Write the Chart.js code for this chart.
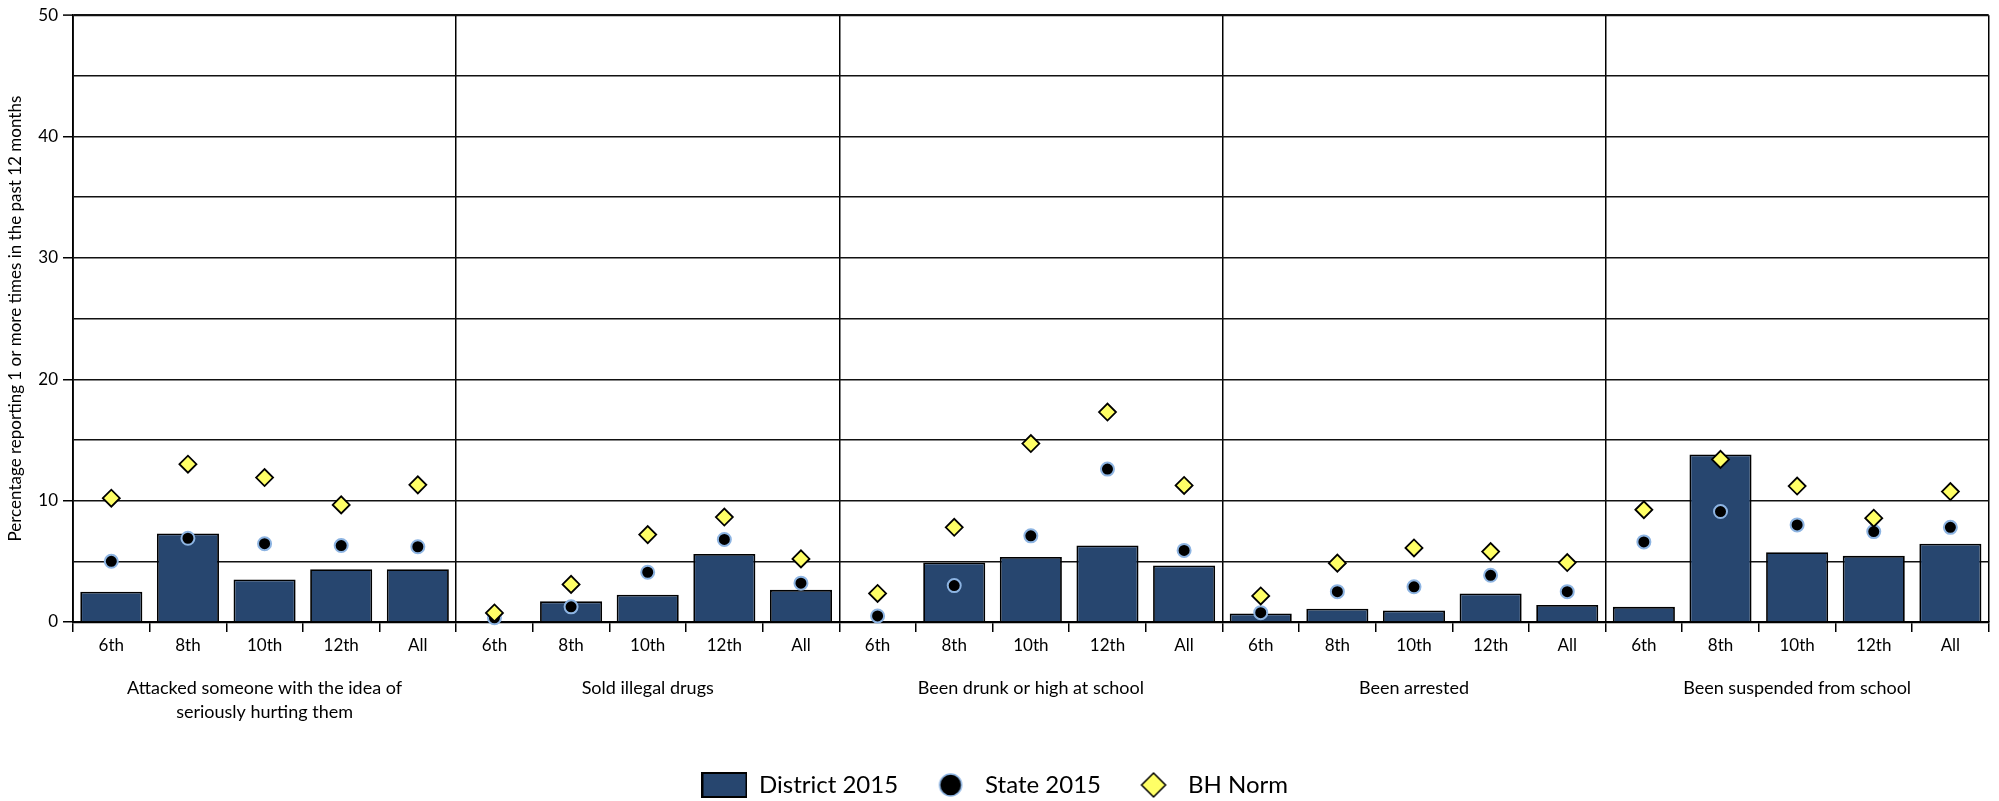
<!DOCTYPE html>
<html>
<head>
<meta charset="utf-8">
<script src="https://cdn.jsdelivr.net/npm/chart.js@4.4.1/dist/chart.umd.min.js"></script>
<style>
  html, body { margin: 0; padding: 0; background: #ffffff; }
  #wrap { width: 1999px; height: 801px; }
</style>
</head>
<body>
<div id="wrap"><canvas id="c" width="1999" height="801"></canvas></div>
<script>
// ---- data ----
const grades = ['6th', '8th', '10th', '12th', 'All'];
const groups = [
  ['Attacked someone with the idea of', 'seriously hurting them'],
  'Sold illegal drugs',
  'Been drunk or high at school',
  'Been arrested',
  'Been suspended from school'
];
const seriesNames = ['District 2015', 'State 2015', 'BH Norm'];
const yTickValues = [0, 10, 20, 30, 40, 50];

//                 Attacked                    Sold                     Drunk/high                Arrested                   Suspended
const district2015 = [2.5, 7.3, 3.5, 4.35, 4.35,  0, 1.7, 2.25, 5.6, 2.65,  0, 4.9, 5.35, 6.3, 4.65,   0.7, 1.1, 0.95, 2.35, 1.4,  1.25, 13.8, 5.75, 5.45, 6.45];
const state2015    = [5.0, 6.9, 6.45, 6.3, 6.2,   0.35, 1.25, 4.1, 6.8, 3.2, 0.5, 3.0, 7.1, 12.6, 5.9,   0.77, 2.5, 2.9, 3.85, 2.5,  6.6, 9.1, 8.0, 7.45, 7.8];
const bhNorm       = [10.2, 13.0, 11.9, 9.65, 11.3, 0.75, 3.1, 7.2, 8.65, 5.2, 2.35, 7.8, 14.7, 17.3, 11.25, 2.15, 4.85, 6.1, 5.8, 4.9, 9.25, 13.4, 11.2, 8.55, 10.75];

const categories = groups.flatMap(() => grades);

// ---- styles ----
const NAVY = '#27466f';
const LIGHTBLUE = '#8db4e2';
const YELLOW = '#ffff66';
const FONT = 'Lato, "Liberation Sans", "DejaVu Sans", sans-serif';

Chart.defaults.font.family = FONT;
Chart.defaults.color = '#000';

function icon(w, h, draw) {
  const c = document.createElement('canvas');
  c.width = w; c.height = h;
  draw(c.getContext('2d'), w, h);
  return c;
}
const rectIcon = icon(46, 26, (g, w, h) => {
  g.fillStyle = NAVY; g.fillRect(1, 1, w - 2, h - 2);
  g.strokeStyle = '#000'; g.lineWidth = 2; g.strokeRect(1, 1, w - 2, h - 2);
});
const circIcon = icon(26, 26, (g) => {
  g.beginPath(); g.arc(13, 13, 11, 0, Math.PI * 2);
  g.fillStyle = '#000'; g.fill();
  g.lineWidth = 1.5; g.strokeStyle = LIGHTBLUE; g.stroke();
});
const diaIcon = icon(28, 28, (g) => {
  g.beginPath(); g.moveTo(14, 2); g.lineTo(26, 14); g.lineTo(14, 26); g.lineTo(2, 14); g.closePath();
  g.fillStyle = YELLOW; g.fill();
  g.lineWidth = 1.5; g.strokeStyle = '#000'; g.stroke();
});
const legendIcons = [rectIcon, circIcon, diaIcon];

new Chart(document.getElementById('c'), {
  data: {
    labels: categories,
    datasets: [
      {
        type: 'bar', label: seriesNames[0], data: district2015,
        backgroundColor: NAVY, borderColor: '#000', borderWidth: 1.8,
        barPercentage: 0.81, categoryPercentage: 1, order: 2, xAxisID: 'x', yAxisID: 'y'
      },
      {
        type: 'line', label: seriesNames[1], data: state2015, showLine: false,
        pointStyle: 'circle', pointRadius: 6.5, pointBackgroundColor: '#000',
        pointBorderColor: LIGHTBLUE, pointBorderWidth: 2,
        backgroundColor: '#000', borderColor: LIGHTBLUE,
        order: 1, clip: false, xAxisID: 'x', yAxisID: 'y'
      },
      {
        type: 'line', label: seriesNames[2], data: bhNorm, showLine: false,
        pointStyle: 'rectRot', pointRadius: 8.5, pointBackgroundColor: YELLOW,
        pointBorderColor: '#000', pointBorderWidth: 1.8,
        backgroundColor: YELLOW, borderColor: '#000',
        order: 0, clip: false, xAxisID: 'x', yAxisID: 'y'
      }
    ]
  },
  options: {
    responsive: false,
    devicePixelRatio: 1,
    animation: false,
    layout: { padding: { top: 15, left: 0, right: 9, bottom: -6 } },
    plugins: {
      tooltip: { enabled: false },
      legend: {
        position: 'bottom',
        labels: {
          usePointStyle: true,
          pointStyleWidth: 45,
          boxHeight: 24,
          padding: 30,
          color: '#000',
          font: { size: 24, family: FONT },
          sort: (a, b) => a.datasetIndex - b.datasetIndex,
          generateLabels(chart) {
            const items = Chart.defaults.plugins.legend.labels.generateLabels(chart);
            items.forEach(it => { it.pointStyle = legendIcons[it.datasetIndex]; });
            return items;
          }
        }
      }
    },
    scales: {
      x: {
        type: 'category',
        offset: true,
        grid: { offset: true, drawOnChartArea: false, tickLength: 10, color: '#000', lineWidth: 1.5 },
        border: { color: '#000', width: 2.2 },
        ticks: { padding: 3, font: { size: 17 }, color: '#000', maxRotation: 0, autoSkip: false },
        afterFit: s => { s.height = 35; }
      },
      x2: {
        type: 'category',
        labels: groups,
        position: 'bottom',
        weight: 1,
        offset: true,
        grid: {
          offset: true, drawOnChartArea: true, drawTicks: false, color: '#000',
          lineWidth: c => (c.index === groups.length ? 2.2 : 1.5)
        },
        border: { display: false },
        ticks: { padding: 19, font: { size: 18, lineHeight: 24 / 18 }, color: '#000', maxRotation: 0, autoSkip: false },
        afterFit: s => { s.height = 86; }
      },
      y: {
        min: 0, max: 50,
        ticks: {
          stepSize: 5, autoSkip: false, padding: 5, font: { size: 17 }, color: '#000',
          callback: v => (yTickValues.includes(v) ? v : '')
        },
        grid: {
          color: '#111',
          lineWidth: c => (c.tick && c.tick.value === 50 ? 2.2 : 1.5),
          tickLength: 10,
          tickColor: c => (c.tick && yTickValues.includes(c.tick.value) ? '#000' : 'rgba(0,0,0,0)'),
          tickWidth: 1.5
        },
        border: { color: '#000', width: 1.8 },
        title: {
          display: true,
          text: 'Percentage reporting 1 or more times in the past 12 months',
          font: { size: 17 }, color: '#000', padding: { top: 5, bottom: 0 }
        },
        afterFit: s => { s.width = 73; }
      }
    }
  }
});
</script>
</body>
</html>
